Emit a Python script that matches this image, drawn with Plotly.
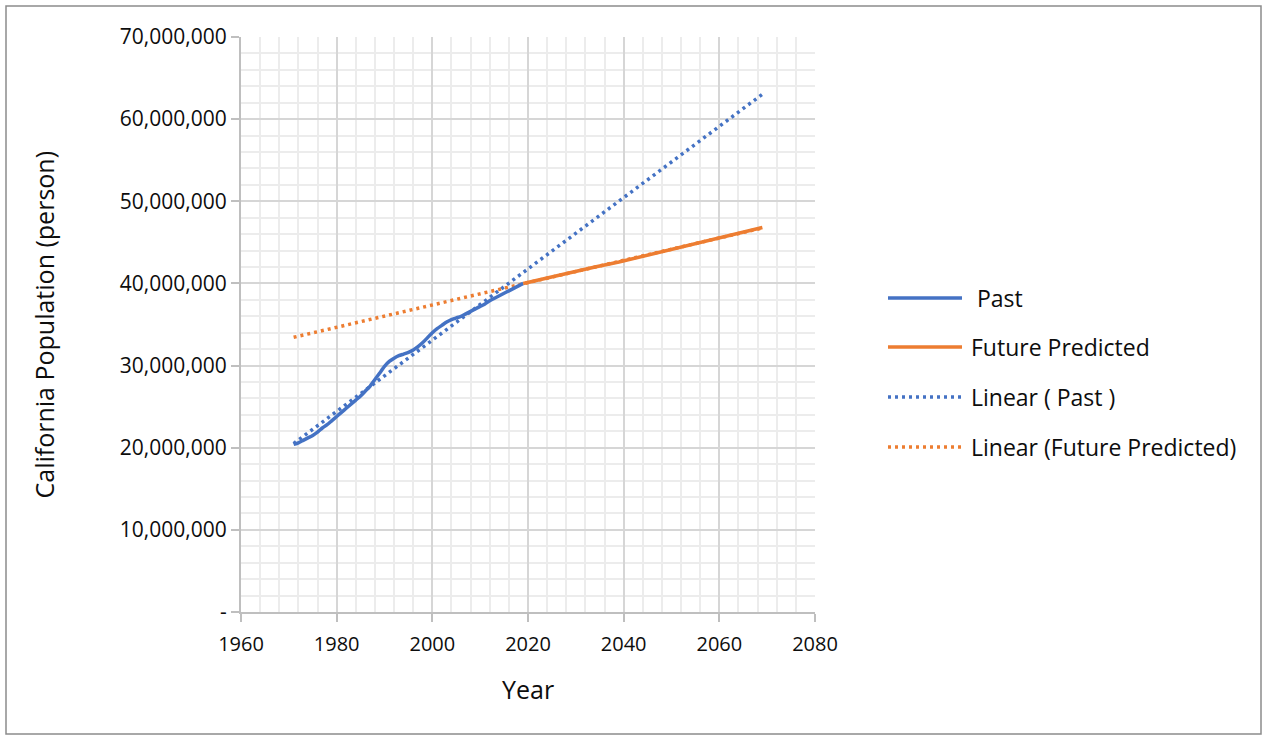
import numpy as np
import plotly.graph_objects as go

# Historical California population (persons)
past_years = list(range(1971, 2020))
past_pop = [
    20.4e6, 20.6e6, 20.9e6, 21.2e6, 21.5e6, 21.9e6, 22.4e6, 22.8e6, 23.3e6, 23.8e6,
    24.3e6, 24.8e6, 25.3e6, 25.8e6, 26.3e6, 26.9e6, 27.5e6, 28.3e6, 29.1e6, 29.9e6,
    30.5e6, 30.9e6, 31.2e6, 31.4e6, 31.6e6, 31.9e6, 32.3e6, 32.8e6, 33.4e6, 34.0e6,
    34.5e6, 34.9e6, 35.3e6, 35.6e6, 35.8e6, 36.0e6, 36.3e6, 36.6e6, 36.9e6, 37.2e6,
    37.5e6, 37.9e6, 38.2e6, 38.5e6, 38.8e6, 39.1e6, 39.4e6, 39.7e6, 40.0e6,
]

# Projected population
future_years = [2019, 2024, 2029, 2034, 2039, 2044, 2049, 2054, 2059, 2064, 2069]
future_pop = [40.0e6, 40.7e6, 41.3e6, 42.0e6, 42.6e6, 43.3e6, 44.0e6, 44.7e6, 45.4e6, 46.1e6, 46.8e6]

# Span over which both linear trendlines are drawn
trend_span = [1971, 2069]

y_tickvals = [0, 10e6, 20e6, 30e6, 40e6, 50e6, 60e6, 70e6]
y_ticktext = ["-", "10,000,000", "20,000,000", "30,000,000", "40,000,000",
              "50,000,000", "60,000,000", "70,000,000"]

legend_labels = [" Past", "Future Predicted", "Linear ( Past )", "Linear (Future Predicted)"]

BLUE = "#4472C4"
ORANGE = "#ED7D31"
FONT = "Open Sans"
TXT = "#0d0d0d"
DOT = "3px,4px"

# Least-squares trendlines
pb = np.polyfit(past_years, past_pop, 1)
pf = np.polyfit(future_years, future_pop, 1)
trend_x = np.array(trend_span, dtype=float)

fig = go.Figure()
fig.add_trace(go.Scatter(x=trend_x, y=np.polyval(pb, trend_x), mode="lines",
                         line=dict(color=BLUE, width=3.5, dash=DOT), showlegend=False))
fig.add_trace(go.Scatter(x=trend_x, y=np.polyval(pf, trend_x), mode="lines",
                         line=dict(color=ORANGE, width=3.5, dash=DOT), showlegend=False))
fig.add_trace(go.Scatter(x=past_years, y=past_pop, mode="lines",
                         line=dict(color=BLUE, width=3.5, shape="spline", smoothing=0.6),
                         showlegend=False))
fig.add_trace(go.Scatter(x=future_years, y=future_pop, mode="lines",
                         line=dict(color=ORANGE, width=3.5), showlegend=False))

L, R, T, B = 241, 815, 37, 612
W, H = 1267, 740


def px_x(p):
    return (p - L) / (R - L)


def px_y(p):
    return (B - p) / (B - T)


# Hand-drawn legend on the right
rows = [298, 347, 397, 447]
styles = [(BLUE, "solid"), (ORANGE, "solid"), (BLUE, DOT), (ORANGE, DOT)]
shapes = []
annotations = []
for row, (col, dash), label in zip(rows, styles, legend_labels):
    shapes.append(dict(type="line", xref="paper", yref="paper",
                       x0=px_x(888), x1=px_x(962), y0=px_y(row), y1=px_y(row),
                       line=dict(color=col, width=3.5, dash=dash)))
    annotations.append(dict(text=label, xref="paper", yref="paper",
                            x=px_x(969), y=px_y(row), xanchor="left", yanchor="middle",
                            showarrow=False, font=dict(family=FONT, size=23, color=TXT)))

# Axis titles
annotations.append(dict(text="Year", xref="paper", yref="paper", x=0.5, y=px_y(689),
                        xanchor="center", yanchor="middle", showarrow=False,
                        font=dict(family=FONT, size=25, color=TXT)))
annotations.append(dict(text="California Population (person)", xref="paper", yref="paper",
                        x=px_x(43), y=0.5, xanchor="center", yanchor="middle", textangle=-90,
                        showarrow=False, font=dict(family=FONT, size=25, color=TXT)))

# Outer chart frame
shapes.append(dict(type="rect", xref="paper", yref="paper", layer="below",
                   x0=px_x(6), x1=px_x(1261), y0=px_y(6), y1=px_y(734),
                   line=dict(color="#8c8c8c", width=1.5)))

fig.update_layout(
    width=W, height=H,
    margin=dict(l=L, r=W - R, t=T, b=H - B),
    paper_bgcolor="white", plot_bgcolor="white",
    font=dict(family=FONT, size=21, color=TXT),
    shapes=shapes, annotations=annotations,
    showlegend=False,
)
fig.update_xaxes(
    range=[1960, 2080], tickmode="linear", tick0=1960, dtick=20,
    showline=True, linecolor="#bfbfbf", linewidth=2,
    ticks="outside", ticklen=8, tickwidth=2, tickcolor="#bfbfbf",
    showgrid=True, gridcolor="#d6d6d6", gridwidth=2, zeroline=False,
    minor=dict(dtick=4, tick0=1960, showgrid=True, gridcolor="#ececec", gridwidth=1.5),
    tickfont=dict(family=FONT, size=20, color=TXT), ticklabelstandoff=5,
)
fig.update_yaxes(
    range=[0, 70e6], tickvals=y_tickvals, ticktext=y_ticktext,
    showline=True, linecolor="#bfbfbf", linewidth=2,
    ticks="outside", ticklen=8, tickwidth=2, tickcolor="#bfbfbf",
    showgrid=True, gridcolor="#d6d6d6", gridwidth=2, zeroline=False,
    minor=dict(dtick=2e6, tick0=0, showgrid=True, gridcolor="#ececec", gridwidth=1.5),
    tickfont=dict(family=FONT, size=21, color=TXT),
)

fig.write_html("out.html")
